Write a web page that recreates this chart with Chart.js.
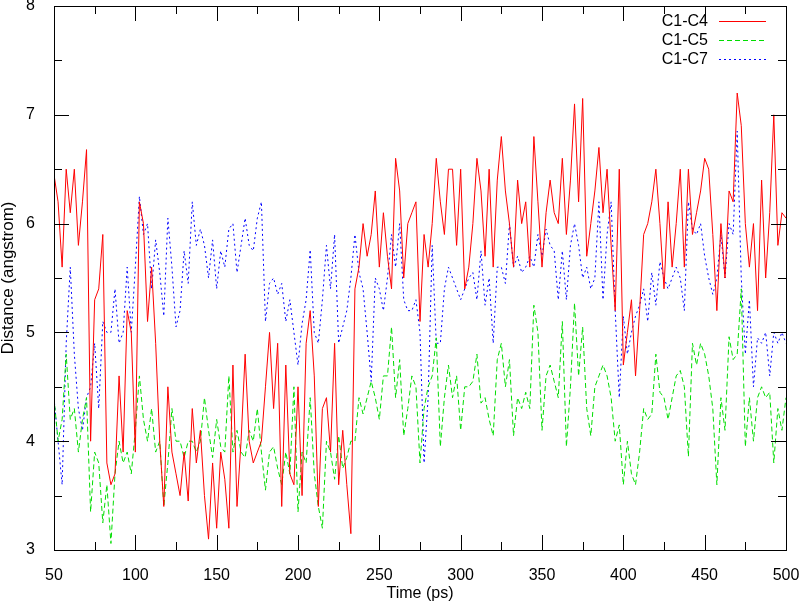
<!DOCTYPE html>
<html>
<head>
<meta charset="utf-8">
<script src="https://cdn.jsdelivr.net/npm/chart.js@4.4.0/dist/chart.umd.min.js"></script>
<style>
  html, body { margin: 0; padding: 0; background: #fff; }
  #wrap { width: 800px; height: 603px; }
</style>
</head>
<body>
<div id="wrap"><canvas id="distChart"></canvas></div>
<script>
// sample times (ps)
const times = [
  50, 52.5, 55, 57.5, 60, 62.5, 65, 67.5, 70, 72.5,
  75, 77.5, 80, 82.5, 85, 87.5, 90, 92.5, 95, 97.5,
  100, 102.5, 105, 107.5, 110, 112.5, 115, 117.5, 120, 122.5,
  125, 127.5, 130, 132.5, 135, 137.5, 140, 142.5, 145, 147.5,
  150, 152.5, 155, 157.5, 160, 162.5, 165, 167.5, 170, 172.5,
  175, 177.5, 180, 182.5, 185, 187.5, 190, 192.5, 195, 197.5,
  200, 202.5, 205, 207.5, 210, 212.5, 215, 217.5, 220, 222.5,
  225, 227.5, 230, 232.5, 235, 237.5, 240, 242.5, 245, 247.5,
  250, 252.5, 255, 257.5, 260, 262.5, 265, 267.5, 270, 272.5,
  275, 277.5, 280, 282.5, 285, 287.5, 290, 292.5, 295, 297.5,
  300, 302.5, 305, 307.5, 310, 312.5, 315, 317.5, 320, 322.5,
  325, 327.5, 330, 332.5, 335, 337.5, 340, 342.5, 345, 347.5,
  350, 352.5, 355, 357.5, 360, 362.5, 365, 367.5, 370, 372.5,
  375, 377.5, 380, 382.5, 385, 387.5, 390, 392.5, 395, 397.5,
  400, 402.5, 405, 407.5, 410, 412.5, 415, 417.5, 420, 422.5,
  425, 427.5, 430, 432.5, 435, 437.5, 440, 442.5, 445, 447.5,
  450, 452.5, 455, 457.5, 460, 462.5, 465, 467.5, 470, 472.5,
  475, 477.5, 480, 482.5, 485, 487.5, 490, 492.5, 495, 497.5,
  500
];

// distances (angstrom)
const c1c4 = [
  6.45, 6.2, 5.6, 6.5, 6.1, 6.5, 5.8, 6.2, 6.68, 4.0,
  5.3, 5.4, 5.9, 3.8, 3.6, 3.7, 4.6, 3.9, 5.2, 5.0,
  3.9, 6.2, 6.0, 5.1, 5.6, 4.9, 4.0, 3.4, 4.5, 3.9,
  3.7, 3.5, 3.9, 3.45, 4.3, 3.8, 4.1, 3.5, 3.1, 3.8,
  3.2, 3.9, 3.65, 3.2, 4.7, 3.4, 4.0, 4.8, 4.0, 3.8,
  3.9, 4.0, 4.5, 5.0, 4.3, 4.9, 3.4, 4.7, 3.7, 3.6,
  4.5, 3.5, 4.9, 5.2, 4.6, 3.4, 4.3, 4.4, 3.9, 4.9,
  3.6, 4.1, 3.6, 3.15, 5.4, 5.6, 6.0, 5.7, 5.9, 6.3,
  5.6, 6.1, 5.7, 5.4, 6.6, 6.3, 5.5, 6.0, 6.1, 6.2,
  5.1, 5.9, 5.6, 6.0, 6.6, 6.2, 5.9, 6.5, 6.5, 5.8,
  6.5, 5.4, 5.6, 6.0, 6.6, 6.3, 5.7, 6.5, 5.6, 6.4,
  6.8, 6.3, 6.0, 5.6, 6.4, 6.0, 6.2, 5.6, 6.8, 6.2,
  5.6, 6.1, 6.4, 6.1, 6.0, 6.6, 5.9, 6.4, 7.1, 6.2,
  7.15, 5.7, 6.0, 6.3, 6.7, 6.1, 6.5, 5.8, 5.2, 6.5,
  4.7, 5.0, 5.3, 4.6, 5.2, 5.9, 6.0, 6.2, 6.5, 6.0,
  5.4, 6.2, 5.6, 6.0, 6.5, 5.6, 6.5, 5.9, 6.1, 6.3,
  6.6, 6.5, 5.9, 5.2, 6.0, 5.5, 6.3, 6.2, 7.2, 6.9,
  6.0, 5.6, 6.0, 5.2, 6.4, 5.5, 6.1, 7.0, 5.8, 6.1,
  6.05
];
const c1c5 = [
  4.4, 4.0, 4.2, 4.8, 4.2, 4.3, 3.9, 4.2, 4.4, 3.35,
  3.9, 3.8, 3.25, 3.6, 3.06, 3.7, 4.0, 3.8, 3.9, 3.7,
  4.1, 4.6, 4.2, 4.0, 4.3, 3.9, 4.0, 3.4, 3.8, 4.3,
  4.0, 4.0, 3.85, 4.0, 4.0, 3.9, 4.0, 4.4, 4.1, 3.85,
  4.2, 3.95, 3.9, 4.6, 3.9, 4.1, 3.9, 3.85, 4.1, 4.0,
  4.3, 3.9, 3.55, 3.9, 3.95, 3.75, 3.6, 3.9, 3.7, 4.5,
  3.35, 3.9, 3.8, 4.4, 3.7, 3.4, 3.2, 4.0, 3.9, 3.65,
  4.05, 3.75, 3.85, 4.0, 4.0, 4.4, 4.25, 4.4, 4.55, 4.4,
  4.2, 4.6, 4.6, 5.05, 4.4, 4.75, 4.05, 4.3, 4.6, 4.5,
  3.8, 4.3, 4.5, 4.6, 4.95, 3.95, 4.4, 4.7, 4.4, 4.6,
  4.1, 4.5, 4.5, 4.55, 4.8, 4.35, 4.4, 4.2, 4.05, 4.75,
  4.9, 4.5, 4.75, 4.05, 4.4, 4.3, 4.45, 4.3, 5.25, 5.0,
  4.1, 4.6, 4.7, 4.55, 4.4, 5.1, 3.95, 4.5, 5.27, 4.6,
  5.05, 4.3, 4.05, 4.5, 4.6, 4.7, 4.6, 4.4, 4.0, 4.15,
  3.6, 4.0, 3.7, 3.6, 3.9, 4.3, 4.2, 4.25, 4.8, 4.45,
  4.4, 4.2, 4.4, 4.6, 4.65, 4.5, 3.86, 4.9, 4.7, 4.9,
  4.8, 4.6, 4.3, 3.6, 4.4, 4.1, 4.96, 4.75, 4.8, 5.4,
  3.95, 4.4, 4.0, 4.4, 4.5, 4.4, 4.45, 3.8, 4.3, 4.1,
  4.4
];
const c1c7 = [
  4.4, 4.0, 3.6, 4.9, 5.6, 4.8, 4.3, 4.1, 4.4, 4.5,
  4.9, 4.3, 5.1, 5.0, 5.0, 5.4, 4.9, 5.0, 5.6, 5.0,
  5.6, 6.25, 5.9, 6.0, 5.4, 5.85, 5.55, 5.15, 6.05, 5.6,
  5.05, 5.2, 5.75, 5.45, 6.2, 5.8, 5.95, 5.8, 5.5, 5.85,
  5.4, 5.75, 5.6, 5.95, 6.0, 5.55, 5.8, 6.05, 5.8, 5.75,
  6.05, 6.2, 5.1, 5.45, 5.5, 5.35, 5.45, 5.1, 5.3, 5.0,
  4.7, 5.08, 5.3, 5.76, 5.0, 4.9, 5.3, 5.8, 5.4, 5.9,
  4.9, 5.05, 5.2, 5.5, 5.9, 5.55, 5.4, 5.0, 4.55, 5.5,
  5.4, 5.2, 5.5, 5.9, 5.6, 6.0, 5.3, 5.2, 5.2, 5.3,
  5.0, 3.8, 4.4, 5.8, 4.9, 4.9, 5.4, 5.6, 5.5, 5.4,
  5.3, 5.4, 5.5, 5.55, 5.3, 5.75, 5.25, 5.5, 4.9, 5.6,
  5.6, 5.45, 6.0, 5.6, 5.7, 5.55, 5.6, 5.7, 5.6, 5.9,
  5.7, 5.95, 5.8, 5.75, 5.3, 5.75, 5.3, 5.8, 6.0, 5.8,
  5.5, 5.6, 5.4, 5.5, 6.2, 5.3, 5.9, 6.2, 5.2, 4.4,
  5.15, 4.8, 5.0, 5.15, 5.25, 5.4, 5.1, 5.55, 5.25, 5.65,
  5.5, 5.4, 5.5, 5.6, 5.5, 5.2, 6.2, 5.95, 5.9, 6.0,
  5.7, 5.5, 5.35, 5.5, 5.9, 5.5, 6.0, 5.9, 6.85, 5.5,
  4.8, 5.3, 4.5, 4.95, 4.9, 5.0, 4.6, 5.0, 4.9, 5.0,
  4.9
];

// axis ticks
const xTicks = [50, 100, 150, 200, 250, 300, 350, 400, 450, 500];
const xMinor = [75, 125, 175, 225, 275, 325, 375, 425, 475];
const yTicks = [3, 4, 5, 6, 7, 8];
const yMinor = [3.5, 4.5, 5.5, 6.5, 7.5];

const FONT = "'Liberation Sans', Arial, Helvetica, sans-serif";

function toPoints(vals) {
  return vals.map((v, i) => ({ x: times[i], y: v }));
}

// gnuplot style box with inward ticks on all four sides
const frameTicks = {
  id: 'frameTicks',
  afterDatasetsDraw(chart) {
    const { ctx, chartArea: a, scales: { x, y } } = chart;
    ctx.save();
    ctx.strokeStyle = '#000';
    ctx.lineWidth = 1;
    ctx.beginPath();
    xTicks.concat(xMinor).forEach(v => {
      const px = Math.round(x.getPixelForValue(v)) + 0.5;
      const len = xTicks.includes(v) ? 15 : 8;
      ctx.moveTo(px, a.bottom); ctx.lineTo(px, a.bottom - len);
      ctx.moveTo(px, a.top); ctx.lineTo(px, a.top + len);
    });
    yTicks.concat(yMinor).forEach(v => {
      const py = Math.round(y.getPixelForValue(v)) + 0.5;
      const len = yTicks.includes(v) ? 15 : 8;
      ctx.moveTo(a.left, py); ctx.lineTo(a.left + len, py);
      ctx.moveTo(a.right, py); ctx.lineTo(a.right - len, py);
    });
    ctx.stroke();
    ctx.strokeRect(Math.round(a.left) + 0.5, Math.round(a.top) + 0.5,
      Math.round(a.right - a.left), Math.round(a.bottom - a.top));
    ctx.restore();
  }
};

// key in the top right corner, text before the sample line
const keyBox = {
  id: 'keyBox',
  afterDraw(chart) {
    const { ctx } = chart;
    ctx.save();
    ctx.font = '16px ' + FONT;
    ctx.textAlign = 'right';
    ctx.textBaseline = 'middle';
    chart.data.datasets.forEach((ds, i) => {
      const ty = 22 + i * 19;
      ctx.fillStyle = '#000';
      ctx.fillText(ds.label, 708, ty);
      ctx.strokeStyle = ds.borderColor;
      ctx.lineWidth = ds.borderWidth;
      ctx.setLineDash(ds.borderDash || []);
      ctx.beginPath();
      ctx.moveTo(719, Math.round(ty) - 0.5);
      ctx.lineTo(766, Math.round(ty) - 0.5);
      ctx.stroke();
    });
    ctx.restore();
  }
};

const ctx = document.getElementById('distChart').getContext('2d');
new Chart(ctx, {
  type: 'line',
  data: {
    datasets: [
      {
        label: 'C1-C4',
        data: toPoints(c1c4),
        borderColor: '#ff0000',
        borderWidth: 1,
        pointRadius: 0,
        tension: 0
      },
      {
        label: 'C1-C5',
        data: toPoints(c1c5),
        borderColor: '#00dd00',
        borderWidth: 1,
        borderDash: [5, 3],
        pointRadius: 0,
        tension: 0
      },
      {
        label: 'C1-C7',
        data: toPoints(c1c7),
        borderColor: '#0000ff',
        borderWidth: 1,
        borderDash: [2, 3],
        pointRadius: 0,
        tension: 0
      }
    ]
  },
  options: {
    responsive: true,
    maintainAspectRatio: false,
    animation: false,
    layout: {
      padding: { top: 6, right: 14, left: 0, bottom: 0 }
    },
    scales: {
      x: {
        type: 'linear',
        min: 50,
        max: 500,
        afterBuildTicks: s => { s.ticks = xTicks.map(v => ({ value: v })); },
        afterFit: s => { s.height = 53; s.paddingLeft = 0; s.paddingRight = 0; },
        grid: { display: false },
        border: { display: false },
        ticks: {
          padding: 8,
          color: '#000',
          maxRotation: 0,
          font: { family: FONT, size: 16 }
        },
        title: {
          display: true,
          text: 'Time (ps)',
          color: '#000',
          padding: 0,
          font: { family: FONT, size: 16 }
        }
      },
      y: {
        type: 'linear',
        min: 3,
        max: 8,
        afterBuildTicks: s => { s.ticks = yTicks.map(v => ({ value: v })); },
        afterFit: s => { s.width = 54; s.paddingTop = 0; s.paddingBottom = 0; },
        grid: { display: false },
        border: { display: false },
        ticks: {
          padding: 11,
          color: '#000',
          font: { family: FONT, size: 16 }
        },
        title: {
          display: true,
          text: 'Distance (angstrom)',
          color: '#000',
          padding: 0,
          font: { family: FONT, size: 17, lineHeight: 1 }
        }
      }
    },
    plugins: {
      legend: { display: false },
      tooltip: { enabled: false }
    }
  },
  plugins: [frameTicks, keyBox]
});
</script>
</body>
</html>
